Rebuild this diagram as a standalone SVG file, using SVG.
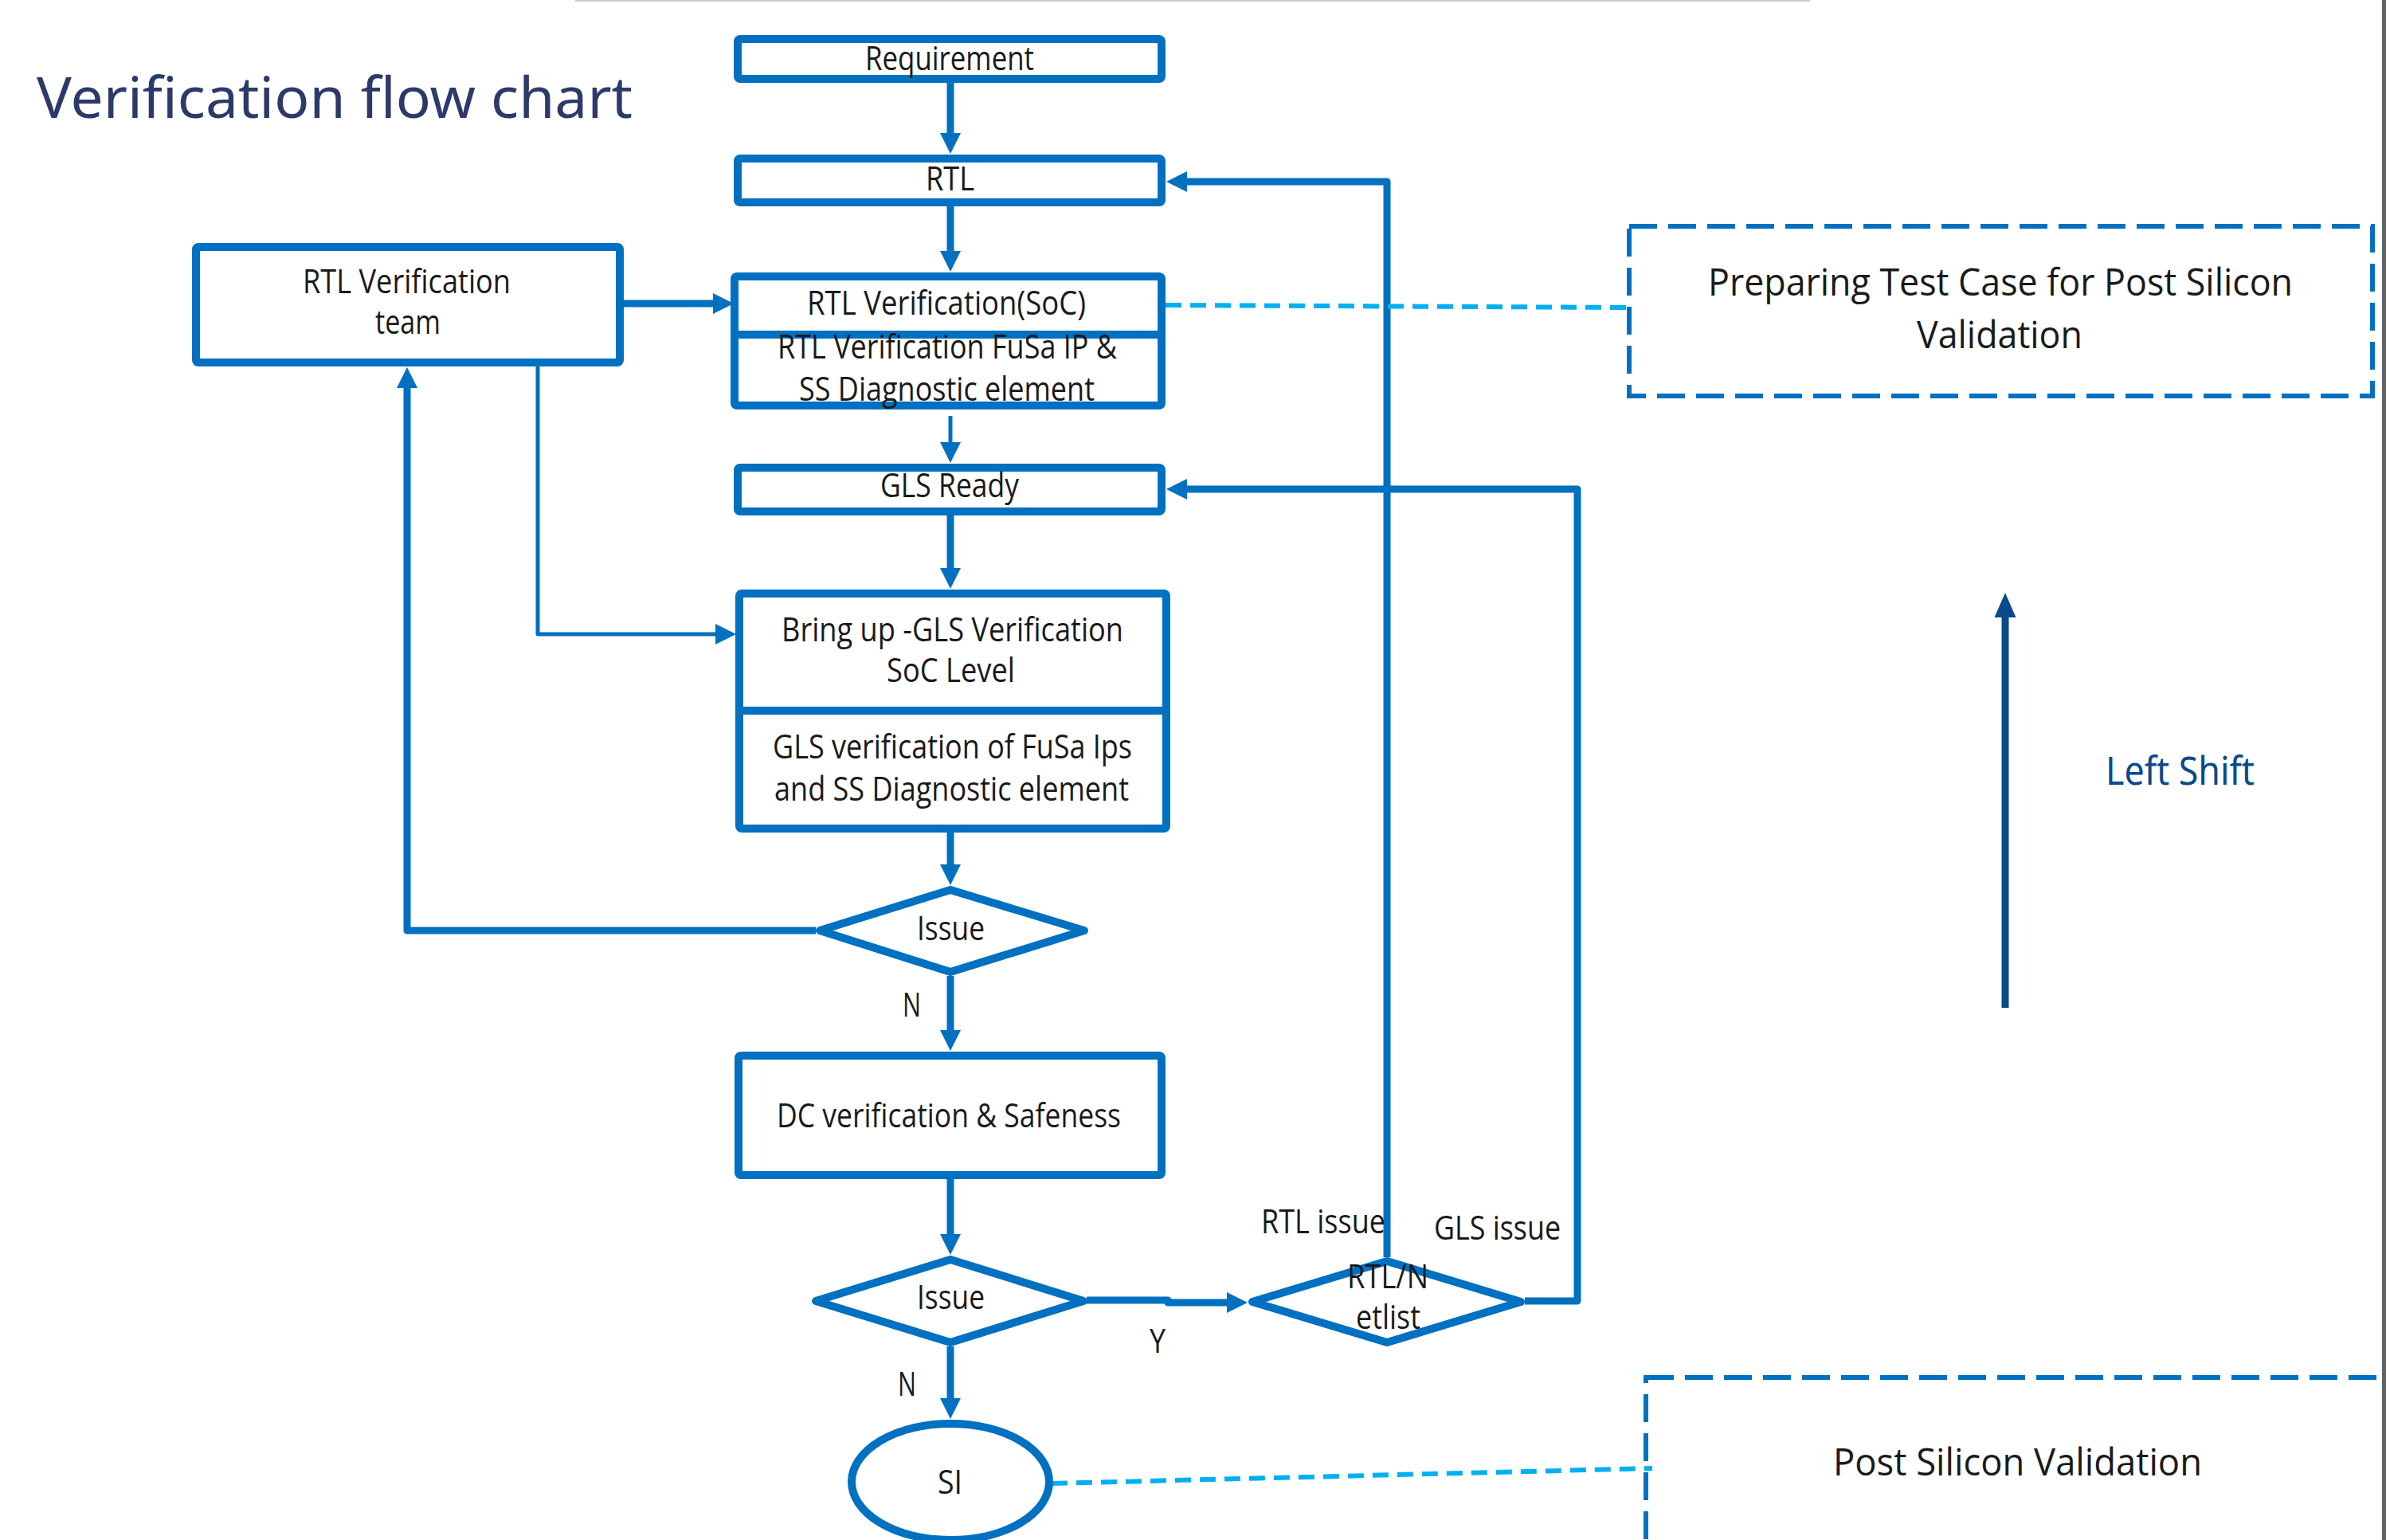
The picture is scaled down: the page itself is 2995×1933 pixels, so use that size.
<svg xmlns="http://www.w3.org/2000/svg" width="2995" height="1933" viewBox="0 0 2995 1933">
<style>
.box{fill:#fff;stroke:#0070c0;stroke-width:10;stroke-linejoin:round}
.div{stroke:#0070c0;stroke-width:10}
.c{fill:none;stroke:#0070c0;stroke-width:9;stroke-linejoin:round}
.thin{stroke-width:5}
.lb{fill:none;stroke:#00b0f0;stroke-width:6;stroke-dasharray:20 11}
.dbox{fill:none;stroke:#0070c0;stroke-width:6;stroke-dasharray:35 14}
.t{font-family:"Open Sans","Liberation Sans",sans-serif;font-size:42px;fill:#1a1a1a}
.big{font-size:47px}
.ttl{font-family:"Noto Sans","Liberation Sans",sans-serif;font-size:72px;fill:#2b3a6b}
.ls{font-family:"Noto Sans","Liberation Sans",sans-serif;font-size:50px;fill:#0a4a8c}
</style>
<defs>
<marker id="ah" viewBox="0 0 26 26" refX="1" refY="13" markerWidth="26" markerHeight="26" markerUnits="userSpaceOnUse" orient="auto"><path d="M0,0 L26,13 L0,26 z" fill="#0070c0"/></marker>
<marker id="ahd" viewBox="0 0 31 27" refX="1" refY="13.5" markerWidth="31" markerHeight="27" markerUnits="userSpaceOnUse" orient="auto"><path d="M0,0 L31,13.5 L0,27 z" fill="#0a4a8c"/></marker>
</defs>
<rect width="2995" height="1933" fill="#fff"/>
<rect x="722" y="0" width="1550" height="2" fill="#c5cadb"/>
<rect x="2990" y="0" width="5" height="1933" fill="#5f636d"/>
<text class="ttl" x="46" y="148" textLength="748" lengthAdjust="spacingAndGlyphs">Verification flow chart</text>

<g id="connectors">
<path class="c" d="M1193,104 V168" marker-end="url(#ah)"/>
<path class="c" d="M1193,259 V316" marker-end="url(#ah)"/>
<path class="c thin" d="M1193,522 V556" marker-end="url(#ah)"/>
<path class="c" d="M1193,647 V714" marker-end="url(#ah)"/>
<path class="c" d="M1193,1045 V1086" marker-end="url(#ah)"/>
<path class="c" d="M1193,1225 V1294" marker-end="url(#ah)"/>
<path class="c" d="M1193,1480 V1550" marker-end="url(#ah)"/>
<path class="c" d="M1193,1690 V1756" stroke-width="6" marker-end="url(#ah)"/>
<path class="c" d="M1364,1632 H1466 V1635 H1541" marker-end="url(#ah)"/>
<path class="c" d="M1741,1578 V228 H1489" marker-end="url(#ah)"/>
<path class="c" d="M1914,1633 H1980 V614 H1489" marker-end="url(#ah)"/>
<path class="c" d="M1024,1168 H511 V486" marker-end="url(#ah)"/>
<path class="c" d="M783,381 H896" marker-end="url(#ah)"/>
<path class="c thin" d="M675,460 V796 H899" marker-end="url(#ah)"/>
<path class="lb" d="M1463,383 L2043,386"/>
<path class="lb" d="M1320,1862 L2074,1843"/>
<path d="M2517,1265 V774" fill="none" stroke="#0a4a8c" stroke-width="9" marker-end="url(#ahd)"/>
</g>

<g id="requirement"><rect class="box" x="926" y="49" width="532" height="50" rx="3"/><text class="t" x="1086" y="88" textLength="212" lengthAdjust="spacingAndGlyphs">Requirement</text></g>
<g id="rtl"><rect class="box" x="926" y="199" width="532" height="55" rx="3"/><text class="t" x="1162" y="239" textLength="61" lengthAdjust="spacingAndGlyphs">RTL</text></g>
<g id="rtl-verification"><rect class="box" x="922" y="347" width="536" height="162" rx="3"/><line class="div" x1="922" y1="420" x2="1458" y2="420"/>
<text class="t" x="1013" y="395" textLength="350" lengthAdjust="spacingAndGlyphs">RTL Verification(SoC)</text>
<text class="t" x="976" y="450" textLength="426" lengthAdjust="spacingAndGlyphs">RTL Verification FuSa IP &amp;</text>
<text class="t" x="1003" y="503" textLength="371" lengthAdjust="spacingAndGlyphs">SS Diagnostic element</text></g>
<g id="gls-ready"><rect class="box" x="926" y="587" width="532" height="55" rx="3"/><text class="t" x="1105" y="624" textLength="174" lengthAdjust="spacingAndGlyphs">GLS Ready</text></g>
<g id="team"><rect class="box" x="246" y="310" width="532" height="145" rx="3"/>
<text class="t" x="380" y="368" textLength="261" lengthAdjust="spacingAndGlyphs">RTL Verification</text>
<text class="t" x="471" y="419" textLength="82" lengthAdjust="spacingAndGlyphs">team</text></g>
<g id="bring-up"><rect class="box" x="928" y="745" width="536" height="295" rx="3"/><line class="div" x1="928" y1="892" x2="1464" y2="892"/>
<text class="t" x="981" y="805" textLength="429" lengthAdjust="spacingAndGlyphs">Bring up -GLS Verification</text>
<text class="t" x="1113" y="856" textLength="161" lengthAdjust="spacingAndGlyphs">SoC Level</text>
<text class="t" x="970" y="952" textLength="451" lengthAdjust="spacingAndGlyphs">GLS verification of FuSa Ips</text>
<text class="t" x="972" y="1005" textLength="445" lengthAdjust="spacingAndGlyphs">and SS Diagnostic element</text></g>
<g id="issue1"><polygon class="box" points="1193,1117 1361,1168 1193,1220 1029,1168"/><text class="t" x="1151" y="1180" textLength="85" lengthAdjust="spacingAndGlyphs">Issue</text></g>
<text class="t" x="1133" y="1276" textLength="23" lengthAdjust="spacingAndGlyphs">N</text>
<g id="dc"><rect class="box" x="927" y="1325" width="531" height="150" rx="3"/><text class="t" x="975" y="1415" textLength="432" lengthAdjust="spacingAndGlyphs">DC verification &amp; Safeness</text></g>
<g id="issue2"><polygon class="box" points="1193,1581 1360,1633 1193,1685 1024,1633"/><text class="t" x="1151" y="1643" textLength="85" lengthAdjust="spacingAndGlyphs">Issue</text></g>
<text class="t" x="1443" y="1698" textLength="20" lengthAdjust="spacingAndGlyphs">Y</text>
<text class="t" x="1127" y="1752" textLength="23" lengthAdjust="spacingAndGlyphs">N</text>
<g id="rtl-netlist"><polygon class="box" points="1741,1583 1909,1634 1741,1685 1572,1634"/>
<text class="t" x="1691" y="1617" textLength="102" lengthAdjust="spacingAndGlyphs">RTL/N</text>
<text class="t" x="1702" y="1668" textLength="81" lengthAdjust="spacingAndGlyphs">etlist</text></g>
<text class="t" x="1583" y="1548" textLength="156" lengthAdjust="spacingAndGlyphs">RTL issue</text>
<text class="t" x="1800" y="1556" textLength="159" lengthAdjust="spacingAndGlyphs">GLS issue</text>
<g id="si"><ellipse class="box" cx="1193" cy="1860" rx="124" ry="73" stroke-width="9"/><text class="t" x="1177" y="1875" textLength="31" lengthAdjust="spacingAndGlyphs">SI</text></g>
<g id="preparing"><rect class="dbox" x="2045" y="284" width="933" height="213"/>
<text class="t big" x="2144" y="371" textLength="734" lengthAdjust="spacingAndGlyphs">Preparing Test Case for Post Silicon</text>
<text class="t big" x="2406" y="437" textLength="208" lengthAdjust="spacingAndGlyphs">Validation</text></g>
<g id="post-silicon"><rect class="dbox" x="2066" y="1729" width="1000" height="400"/>
<text class="t big" x="2301" y="1852" textLength="463" lengthAdjust="spacingAndGlyphs">Post Silicon Validation</text></g>
<g id="left-shift"><text class="ls" x="2643" y="985" textLength="187" lengthAdjust="spacingAndGlyphs">Left Shift</text></g>
</svg>
